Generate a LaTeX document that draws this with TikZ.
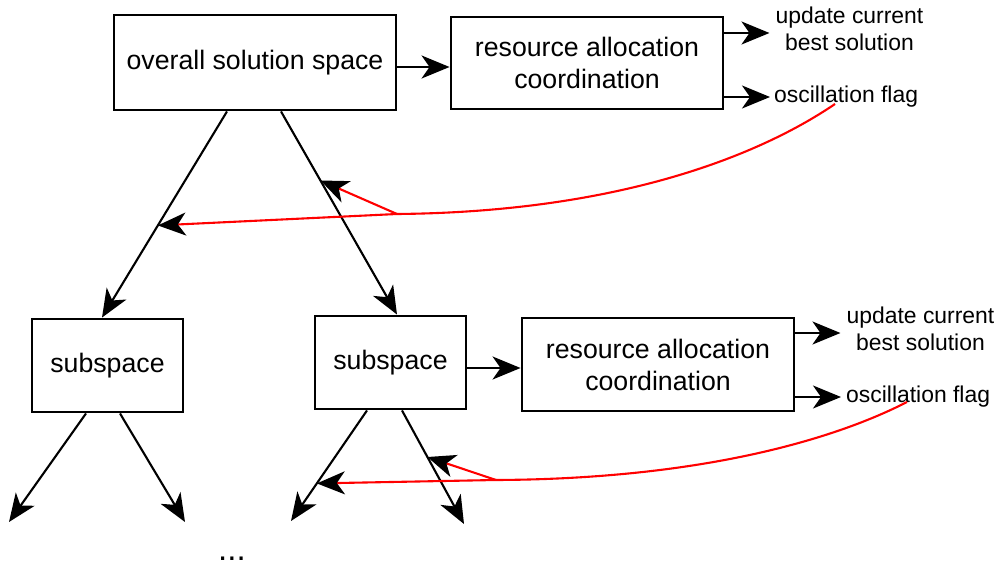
\documentclass[tikz,border=0pt]{standalone}
\usepackage{fontspec}
\setmainfont{Liberation Sans}
\usetikzlibrary{arrows.meta,calc}
\begin{document}
\begin{tikzpicture}[x=1pt,y=-1pt,
  box/.style={draw,line width=2.9pt,inner sep=0pt,align=center,font=\fontsize{26.7}{32}\selectfont},
  lbl/.style={inner sep=0pt,align=center,font=\fontsize{22.9}{27.5}\selectfont},
  tip/.style={-{Stealth[length=28pt,width=23pt,inset=8pt,black]}},
  arr/.style={tip,line width=2.1pt,black},
  fb/.style={tip,line width=2.1pt,red}]
\useasboundingbox (0,0) rectangle (999,567);
% boxes
\node[box,minimum width=282pt,minimum height=95pt] (T) at (255,62.5) {overall solution space};
\node[box,minimum width=272pt,minimum height=92pt] (R1) at (587,63) {resource allocation\\coordination};
\node[box,minimum width=151pt,minimum height=93pt] (L) at (107.5,365.5) {subspace};
\node[box,minimum width=151pt,minimum height=93pt] (S) at (390.5,362.5) {subspace};
\node[box,minimum width=272pt,minimum height=93pt] (R2) at (658,364.5) {resource allocation\\coordination};
% labels
\node[lbl] (U1) at (849.5,29) {update current\\best solution};
\node[lbl,anchor=west] (O1) at (774,97) {oscillation flag};
\node[lbl] (U2) at (920.5,329) {update current\\best solution};
\node[lbl,anchor=west] (O2) at (846,397) {oscillation flag};
\node[anchor=base,inner sep=0pt,font=\fontsize{33}{36}\selectfont] (dots) at (232,560) {...};
% free ends
\coordinate (LL) at (9,522);
\coordinate (LR) at (185,522);
\coordinate (SL) at (291,521);
\coordinate (SR) at (464,524);
% horizontal arrows
\draw[arr] ([yshift=-4.5pt]T.east) -- ([yshift=-4pt]R1.west);
\draw[arr] ([yshift=30pt]R1.east) -- ($(U1.west)+(-6,4)$);
\draw[arr] ([yshift=-34pt]R1.east) -- ($(O1.west)+(-4,0)$);
\draw[arr] ([yshift=-5.5pt]S.east) -- ([yshift=-3.5pt]R2.west);
\draw[arr] ([yshift=31.5pt]R2.east) -- ($(U2.west)+(-6,4)$);
\draw[arr] ([yshift=-32.5pt]R2.east) -- ($(O2.west)+(-5,0)$);
% tree arrows
\draw[arr] ([xshift=-28pt]T.south) coordinate (ta) -- ([xshift=-5.5pt]L.north) coordinate (tb);
\draw[arr] ([xshift=26pt]T.south) coordinate (tc) -- ([xshift=6.5pt]S.north) coordinate (td);
\draw[arr] ([xshift=-21.5pt]L.south) -- (LL);
\draw[arr] ([xshift=12.5pt]L.south) -- (LR);
\draw[arr] ([xshift=-23.5pt]S.south) coordinate (sa) -- (SL);
\draw[arr] ([xshift=11.5pt]S.south) coordinate (sb) -- (SR);
% feedback (red)
\coordinate (r1s) at (835,104);
\coordinate (b1) at (397,214);
\coordinate (r2s) at (907,402);
\coordinate (b2) at (496,480);
\draw[fb] (r1s) .. controls (760,155) and (620,212) .. (b1) -- ($(ta)!0.553!(tb)$);
\draw[fb] (b1) -- ($(tc)!0.34!(td)$);
\draw[fb] (r2s) .. controls (837,438) and (705,479) .. (b2) -- ($(sa)!0.66!(SL)$);
\draw[fb] (b2) -- ($(sb)!0.41!(SR)$);
\end{tikzpicture}
\end{document}
